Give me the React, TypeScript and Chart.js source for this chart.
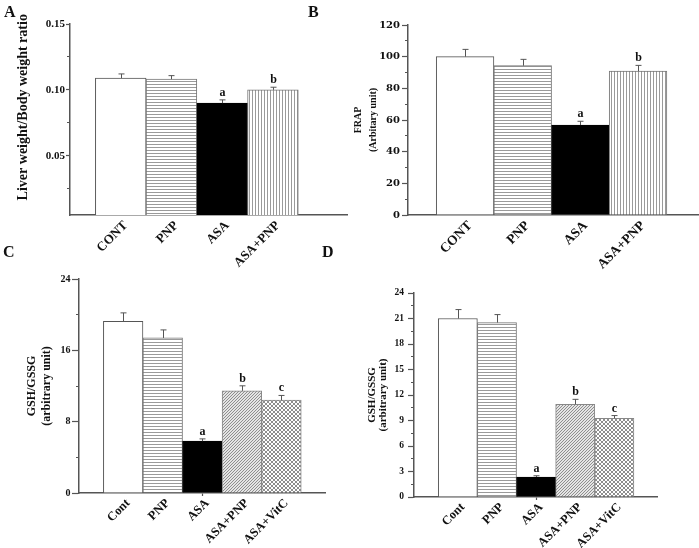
import React, { useEffect, useRef } from 'react';
import { Chart, registerables } from 'chart.js';
Chart.register(...registerables);

const SERIF = '"Liberation Serif", "Times New Roman", serif';
const DSERIF = '"DejaVu Serif", serif';

// ---- Panel A : liver weight / body weight ----
const labelsA = ['CONT', 'PNP', 'ASA', 'ASA+PNP'];
const valuesA = [0.1089, 0.1081, 0.0899, 0.1];
const errorsA = [0.0032, 0.0027, 0.0025, 0.002];
const lettersA = ['', '', 'a', 'b'];
const yTicksA = [0.025, 0.05, 0.075, 0.1, 0.125, 0.15];
const yMajorA = [0.05, 0.1, 0.15];

// ---- Panel B : FRAP ----
const labelsB = ['CONT', 'PNP', 'ASA', 'ASA+PNP'];
const valuesB = [100, 94.3, 56.8, 90.9];
const errorsB = [4.6, 4.0, 2.4, 3.6];
const lettersB = ['', '', 'a', 'b'];
const yTicksB = [0, 10, 20, 30, 40, 50, 60, 70, 80, 90, 100, 110, 120];
const yMajorB = [0, 20, 40, 60, 80, 100, 120];

// ---- Panel C : GSH/GSSG ----
const labelsC = ['Cont', 'PNP', 'ASA', 'ASA+PNP', 'ASA+VitC'];
const valuesC = [19.26, 17.39, 5.81, 11.46, 10.41];
const errorsC = [0.94, 0.9, 0.26, 0.56, 0.53];
const lettersC = ['', '', 'a', 'b', 'c'];
const yTicksC = [0, 4, 8, 12, 16, 20, 24];
const yMajorC = [0, 8, 16, 24];

// ---- Panel D : GSH/GSSG ----
const labelsD = ['Cont', 'PNP', 'ASA', 'ASA+PNP', 'ASA+VitC'];
const valuesD = [21.0, 20.52, 2.35, 10.9, 9.26];
const errorsD = [1.05, 0.94, 0.15, 0.59, 0.32];
const lettersD = ['', '', 'a', 'b', 'c'];
const yTicksD = [0, 1.5, 3, 4.5, 6, 7.5, 9, 10.5, 12, 13.5, 15, 16.5, 18, 19.5, 21, 22.5, 24];
const yMajorD = [0, 3, 6, 9, 12, 15, 18, 21, 24];

const fillsAB = ['white', 'h', 'black', 'v'];
const fillsCD = ['white', 'h', 'black', 'd', 'x'];

function makeFill(kind: string): any {
  if (kind === 'white') return '#ffffff';
  if (kind === 'black') return '#000000';
  const c = document.createElement('canvas');
  const ctx = c.getContext('2d')!;
  if (kind === 'h') {
    c.width = 4; c.height = 3;
    ctx.fillStyle = '#ffffff'; ctx.fillRect(0, 0, 4, 3);
    ctx.fillStyle = '#9a9a9a'; ctx.fillRect(0, 0, 4, 1);
  } else if (kind === 'v') {
    c.width = 3; c.height = 4;
    ctx.fillStyle = '#ffffff'; ctx.fillRect(0, 0, 3, 4);
    ctx.fillStyle = '#9a9a9a'; ctx.fillRect(0, 0, 1, 4);
  } else if (kind === 'd') {
    c.width = 3; c.height = 3;
    ctx.fillStyle = '#e4e4e4'; ctx.fillRect(0, 0, 3, 3);
    ctx.fillStyle = '#8e8e8e';
    for (let i = 0; i < 3; i++) ctx.fillRect(i, 2 - i, 1, 1);
  } else if (kind === 'x') {
    c.width = 4; c.height = 4;
    ctx.fillStyle = '#ffffff'; ctx.fillRect(0, 0, 4, 4);
    ctx.fillStyle = '#8e8e8e';
    for (let i = 0; i < 4; i++) { ctx.fillRect(i, i, 1, 1); ctx.fillRect(i, 3 - i, 1, 1); }
  }
  return ctx.createPattern(c, 'repeat');
}

const borderFor: Record<string, string> = {
  white: '#555555', h: '#777777', black: '#000000', v: '#777777', d: '#888888', x: '#888888',
};

type PanelProps = {
  left: number; top: number; width: number; height: number;
  labels: string[]; values: number[]; errors: number[]; letters: string[]; fills: string[];
  yMin: number; yMax: number; yTicks: number[]; yMajor: number[]; yDigits: number;
  yWidth: number; xHeight: number; padTop: number; padRight: number;
  xMin: number; xMax: number;
  title: string | string[]; titleSize: number; titleLH: number; titlePad: number;
  yFontFamily: string; yFontSize: number; yTickLen: number; yMinorLen: number; yPad: number;
  xFontSize: number; xPad: number; xLabelOffset: number; xMark: number | null;
};

const near = (arr: number[], v: number) => arr.some((m) => Math.abs(m - v) < 1e-9);

function Panel(p: PanelProps) {
  const ref = useRef<HTMLCanvasElement>(null);
  useEffect(() => {
    if (!ref.current) return;
    const errPlugin = {
      id: 'errbars',
      afterDatasetsDraw(chart: any) {
        const meta = chart.getDatasetMeta(0);
        const ys = chart.scales.y;
        const ctx = chart.ctx;
        ctx.save();
        meta.data.forEach((el: any, i: number) => {
          const v = p.values[i];
          const x = Math.round(el.x) + 0.5;
          const y0 = el.y;
          const y1 = ys.getPixelForValue(v + p.errors[i]);
          ctx.strokeStyle = '#555555';
          ctx.lineWidth = 1;
          ctx.beginPath();
          ctx.moveTo(x, y0);
          ctx.lineTo(x, y1);
          ctx.moveTo(x - 3, y1);
          ctx.lineTo(x + 3, y1);
          ctx.stroke();
          if (p.letters[i]) {
            ctx.fillStyle = '#111111';
            ctx.font = `bold 12px ${SERIF}`;
            ctx.textAlign = 'center';
            ctx.textBaseline = 'alphabetic';
            ctx.fillText(p.letters[i], x, y1 - 4);
          }
        });
        ctx.restore();
      },
    };
    const chart = new Chart(ref.current, {
      type: 'bar',
      data: {
        datasets: [
          {
            data: p.values.map((v, i) => ({ x: i, y: v })),
            backgroundColor: p.fills.map(makeFill),
            borderColor: p.fills.map((f) => borderFor[f]),
            borderWidth: 1,
            categoryPercentage: 1,
            barPercentage: 1,
          },
        ],
      },
      options: {
        animation: false,
        responsive: false,
        devicePixelRatio: 1,
        layout: { padding: { left: 0, top: p.padTop, right: p.padRight, bottom: 0 } },
        plugins: { legend: { display: false }, tooltip: { enabled: false } },
        scales: {
          x: {
            type: 'linear',
            min: p.xMin,
            max: p.xMax,
            offset: false,
            afterBuildTicks: (ax: any) => {
              ax.ticks = p.labels.map((_, i) => ({ value: i }));
            },
            afterFit: (ax: any) => { ax.height = p.xHeight; },
            ticks: {
              autoSkip: false,
              minRotation: 45,
              maxRotation: 45,
              padding: p.xPad,
              labelOffset: p.xLabelOffset,
              color: '#111111',
              font: { family: SERIF, size: p.xFontSize, weight: 'bold' },
              callback: (v: any) => p.labels[v] ?? '',
            },
            grid: {
              display: true,
              offset: false,
              drawOnChartArea: false,
              drawTicks: true,
              tickLength: 3,
              tickWidth: 1.2,
              tickColor: (c: any) => (p.xMark !== null && c.tick && c.tick.value === p.xMark ? '#555555' : 'rgba(0,0,0,0)'),
            },
            border: { display: true, color: '#555555', width: 1.5 },
          },
          y: {
            min: p.yMin,
            max: p.yMax,
            afterBuildTicks: (ax: any) => {
              ax.ticks = p.yTicks.map((v) => ({ value: v }));
            },
            afterFit: (ax: any) => { ax.width = p.yWidth; },
            ticks: {
              autoSkip: false,
              padding: p.yPad,
              color: '#111111',
              font: { family: p.yFontFamily, size: p.yFontSize, weight: 'bold' },
              callback: (v: any) => (near(p.yMajor, v) ? Number(v).toFixed(p.yDigits) : ''),
            },
            grid: {
              drawOnChartArea: false,
              drawTicks: true,
              tickLength: p.yTickLen,
              tickWidth: 1.2,
              tickColor: '#555555',
              tickBorderDash: (c: any) =>
                c.tick && near(p.yMajor, c.tick.value) ? [] : [0, p.yTickLen - p.yMinorLen, 40],
            },
            border: { display: true, color: '#555555', width: 1.5 },
            title: {
              display: true,
              text: p.title,
              color: '#111111',
              font: { family: SERIF, size: p.titleSize, weight: 'bold', lineHeight: p.titleLH },
              padding: { top: p.titlePad, bottom: 0 },
            },
          },
        },
      },
      plugins: [errPlugin],
    } as any);
    return () => chart.destroy();
  }, []);
  return (
    <div style={{ position: 'absolute', left: p.left, top: p.top, width: p.width, height: p.height }}>
      <canvas ref={ref} width={p.width} height={p.height} style={{ display: 'block' }} />
    </div>
  );
}

const letterStyle = (left: number, top: number): React.CSSProperties => ({
  position: 'absolute',
  left,
  top,
  fontFamily: SERIF,
  fontWeight: 'bold',
  fontSize: 16,
  lineHeight: '16px',
  color: '#111111',
  zIndex: 2,
});

export default function App() {
  return (
    <div style={{ position: 'fixed', left: 0, top: 0, width: 699, height: 548, background: '#ffffff', overflow: 'hidden' }}>
      <Panel
        left={0} top={0} width={350} height={270}
        labels={labelsA} values={valuesA} errors={errorsA} letters={lettersA} fills={fillsAB}
        yMin={0.005} yMax={0.15} yTicks={yTicksA} yMajor={yMajorA} yDigits={2}
        yWidth={70} xHeight={55} padTop={24} padRight={3}
        xMin={-1} xMax={4.46}
        title={'       Liver weight/Body weight ratio'} titleSize={14} titleLH={1.2} titlePad={15}
        yFontFamily={SERIF} yFontSize={11} yTickLen={4} yMinorLen={3} yPad={1}
        xFontSize={13} xPad={0} xLabelOffset={5} xMark={null}
      />
      <Panel
        left={350} top={0} width={349} height={270}
        labels={labelsB} values={valuesB} errors={errorsB} letters={lettersB} fills={fillsAB}
        yMin={0} yMax={120} yTicks={yTicksB} yMajor={yMajorB} yDigits={0}
        yWidth={58} xHeight={55} padTop={25} padRight={1}
        xMin={-0.99} xMax={4.04}
        title={['FRAP', '(Arbitary unit)']} titleSize={10} titleLH={1.5} titlePad={1}
        yFontFamily={DSERIF} yFontSize={10} yTickLen={6} yMinorLen={3} yPad={2}
        xFontSize={13.5} xPad={0} xLabelOffset={5} xMark={null}
      />
      <Panel
        left={0} top={270} width={350} height={278}
        labels={labelsC} values={valuesC} errors={errorsC} letters={lettersC} fills={fillsCD}
        yMin={0} yMax={24} yTicks={yTicksC} yMajor={yMajorC} yDigits={0}
        yWidth={79} xHeight={55} padTop={9} padRight={25}
        xMin={-1.116} xMax={5.1}
        title={['GSH/GSSG', '(arbitrary unit)']} titleSize={12} titleLH={1.3} titlePad={24}
        yFontFamily={SERIF} yFontSize={10} yTickLen={7} yMinorLen={3} yPad={1.5}
        xFontSize={12.5} xPad={0} xLabelOffset={5} xMark={2}
      />
      <Panel
        left={350} top={270} width={349} height={278}
        labels={labelsD} values={valuesD} errors={errorsD} letters={lettersD} fills={fillsCD}
        yMin={0} yMax={24} yTicks={yTicksD} yMajor={yMajorD} yDigits={0}
        yWidth={64} xHeight={51} padTop={23} padRight={42}
        xMin={-1.12} xMax={5.09}
        title={['GSH/GSSG', '(arbitrary unit)']} titleSize={11} titleLH={1.05} titlePad={16}
        yFontFamily={SERIF} yFontSize={9.5} yTickLen={6} yMinorLen={3} yPad={4}
        xFontSize={12.5} xPad={0} xLabelOffset={5} xMark={2}
      />
      <div style={letterStyle(4, 4)}>A</div>
      <div style={letterStyle(308, 4)}>B</div>
      <div style={letterStyle(3, 244)}>C</div>
      <div style={letterStyle(322, 244)}>D</div>
    </div>
  );
}
